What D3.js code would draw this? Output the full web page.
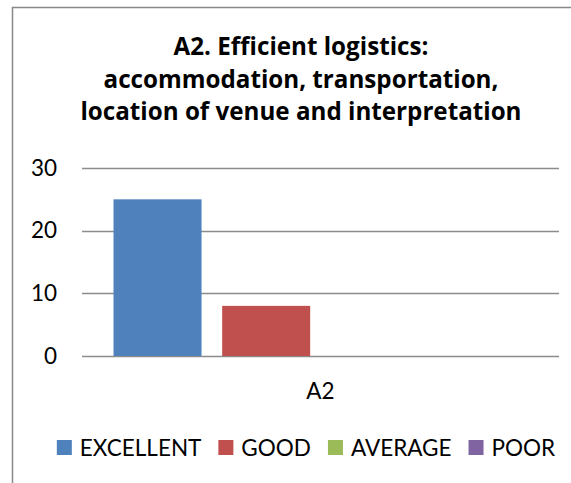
<!DOCTYPE html>
<html>
<head>
<meta charset="utf-8">
<script src="https://cdn.jsdelivr.net/npm/d3@7"></script>
<style>
  html, body { margin: 0; padding: 0; background: #fff; }
  svg { display: block; }
  text { font-family: Lato, "Open Sans", sans-serif; fill: #000; }
</style>
</head>
<body>
<svg id="chart" width="571" height="483"></svg>
<script>
const titleLines = ["A2. Efficient logistics:", "accommodation, transportation,", "location of venue and interpretation"];
const categories = ["A2"];
const seriesNames = ["EXCELLENT", "GOOD", "AVERAGE", "POOR"];
const seriesColors = ["#4F81BD", "#C0504D", "#9BBB59", "#8064A2"];
const excellent = [25];
const good = [8];
const average = [0];
const poor = [0];
const yTicks = [0, 10, 20, 30];

const seriesValues = [excellent, good, average, poor];

const svg = d3.select("#chart");

// chart frame (extends beyond the visible area on the right/bottom)
svg.append("rect")
  .attr("x", 12.5).attr("y", 7.5)
  .attr("width", 700).attr("height", 700)
  .attr("fill", "none").attr("stroke", "#898989").attr("stroke-width", 1.5);

// title
const title = svg.append("text")
  .attr("text-anchor", "middle")
  .style("font-family", "'Open Sans', Lato, sans-serif")
  .style("font-weight", "bold")
  .style("font-size", "24.2px");
const titleBaselines = [55, 88, 120];
titleLines.forEach((t, i) => {
  title.append("tspan").attr("x", 301).attr("y", titleBaselines[i]).text(t);
});

// scales
const plotLeft = 82, plotRight = 559, plotTop = 168, plotBottom = 356;
const y = d3.scaleLinear().domain([0, 30]).range([plotBottom, plotTop]);
const x0 = d3.scaleBand().domain(categories).range([plotLeft, plotRight]);
const x1 = d3.scaleBand().domain(seriesNames).range([0, x0.bandwidth()])
  .paddingInner(0.19).paddingOuter(0.29);

// gridlines
svg.append("g").selectAll("line").data(yTicks).join("line")
  .attr("x1", plotLeft).attr("x2", plotRight)
  .attr("y1", d => Math.round(y(d)) + 0.5).attr("y2", d => Math.round(y(d)) + 0.5)
  .attr("stroke", "#8c8c8c").attr("stroke-width", 1.5);

// y axis labels
const yAxis = d3.axisLeft(y).tickValues(yTicks).tickSize(0).tickPadding(0);
const yg = svg.append("g").attr("transform", `translate(57,0)`).call(yAxis);
yg.select(".domain").remove();
yg.selectAll("text")
  .style("font-family", "Lato, 'Open Sans', sans-serif")
  .style("font-size", "22.5px").attr("fill", "#000");

// bars
const groups = svg.append("g").selectAll("g").data(categories).join("g")
  .attr("transform", d => `translate(${x0(d)},0)`);
groups.selectAll("rect")
  .data((d, ci) => seriesNames.map((s, si) => ({ s, v: seriesValues[si][ci], c: seriesColors[si] })))
  .join("rect")
  .attr("x", d => x1(d.s))
  .attr("width", x1.bandwidth())
  .attr("y", d => y(d.v))
  .attr("height", d => y(0) - y(d.v))
  .attr("fill", d => d.c);

// x axis label
const xAxis = d3.axisBottom(x0).tickSize(0).tickPadding(0);
const xg = svg.append("g").attr("transform", `translate(0,383)`).call(xAxis);
xg.select(".domain").remove();
xg.selectAll("text")
  .attr("dy", null).attr("y", 16)
  .style("font-family", "Lato, 'Open Sans', sans-serif")
  .style("font-size", "22.5px").attr("fill", "#000");

// legend
const legend = svg.append("g");
const items = legend.selectAll("g").data(seriesNames).join("g");
items.append("rect")
  .attr("width", 15).attr("height", 15)
  .attr("y", 440)
  .attr("fill", (d, i) => seriesColors[i]);
items.append("text")
  .attr("x", 23).attr("y", 456)
  .style("font-size", "22.5px")
  .text(d => d);
let widths = [];
items.each(function () { widths.push(d3.select(this).select("text").node().getComputedTextLength()); });
const gap = 17;
const total = d3.sum(widths.map(w => 23 + w)) + gap * (widths.length - 1);
let cx = 306 - total / 2;
items.each(function (d, i) {
  d3.select(this).attr("transform", `translate(${cx},0)`);
  cx += 23 + widths[i] + gap;
});
</script>
</body>
</html>
